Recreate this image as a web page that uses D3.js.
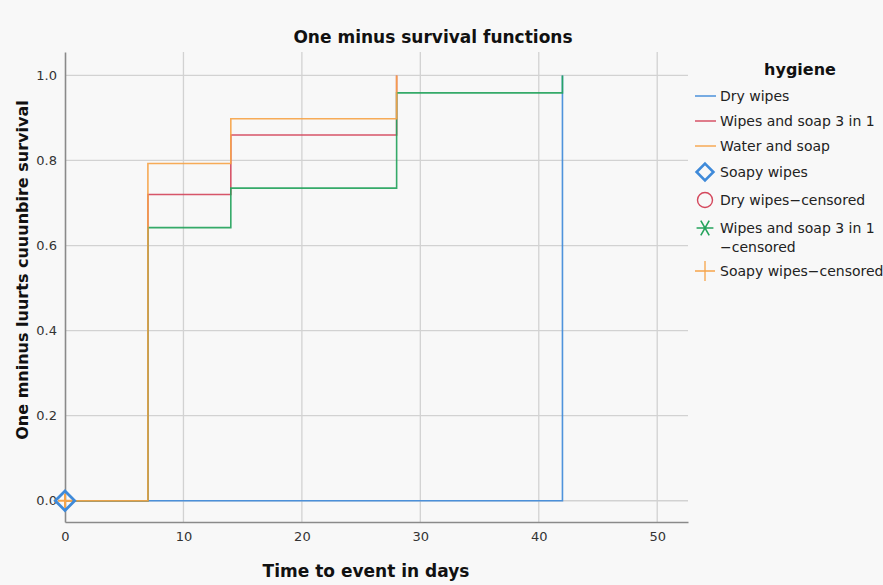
<!DOCTYPE html>
<html><head><meta charset="utf-8">
<script src="https://cdn.jsdelivr.net/npm/d3@7"></script>
<style>
html,body{margin:0;padding:0;background:#f8f8f8;}
svg{display:block;}
text{font-family:"DejaVu Sans",sans-serif;}
</style></head>
<body>
<script>
// ---- data ----
const xTicks = [0, 10, 20, 30, 40, 50];
const yTicks = [0.0, 0.2, 0.4, 0.6, 0.8, 1.0];
const seriesNames = ["Dry wipes", "Wipes and soap 3 in 1", "Water and soap", "Soapy wipes"];
const dryTimes = [0, 42];
const dryValues = [0, 1.0];
const wipesSoapTimes = [0, 7, 14, 28];
const wipesSoapValues = [0, 0.72, 0.86, 1.0];
const waterSoapTimes = [0, 7, 14, 28];
const waterSoapValues = [0, 0.793, 0.898, 1.0];
const soapyTimes = [0, 7, 14, 28, 42];
const soapyValues = [0, 0.642, 0.735, 0.959, 1.0];
const censorTimes = [0];
const censorValues = [0];
const legendLabels = ["Dry wipes", "Wipes and soap 3 in 1", "Water and soap", "Soapy wipes",
  "Dry wipes\u2212censored", ["Wipes and soap 3 in 1", "\u2212censored"], "Soapy wipes\u2212censored"];

const W = 883, H = 585;
const colors = {blue:"#3f8ad9", red:"#d4475c", orange:"#f6a449", green:"#24a35c"};

const svg = d3.select("body").append("svg").attr("width", W).attr("height", H);
svg.append("rect").attr("width", W).attr("height", H).attr("fill", "#f8f8f8");

const x = d3.scaleLinear().domain([0, 52.6]).range([65, 688]);
const y = d3.scaleLinear().domain([-0.05, 1.055]).range([522, 52]);

// gridlines
const grid = svg.append("g").attr("stroke", "#d2d2d2").attr("stroke-width", 1.3);
grid.selectAll("line.h").data(yTicks).join("line").attr("class","h")
  .attr("x1", x.range()[0]).attr("x2", x.range()[1])
  .attr("y1", d => y(d)).attr("y2", d => y(d));
grid.selectAll("line.v").data(xTicks.filter(d => d > 0)).join("line").attr("class","v")
  .attr("x1", d => x(d)).attr("x2", d => x(d))
  .attr("y1", y.range()[1]).attr("y2", y.range()[0]);

// axes
const xAxis = svg.append("g").attr("transform", `translate(0,${y.range()[0]})`)
  .call(d3.axisBottom(x).tickValues(xTicks).tickSize(0).tickPadding(10).tickFormat(d3.format("d")));
const yAxis = svg.append("g").attr("transform", `translate(${x.range()[0]},0)`)
  .call(d3.axisLeft(y).tickValues(yTicks).tickSize(0).tickPadding(8).tickFormat(d3.format(".1f")));
[xAxis, yAxis].forEach(a => {
  a.select(".domain").attr("stroke", "#8a8a8a").attr("stroke-width", 1.6);
  a.selectAll("text").attr("font-size", 13).attr("fill", "#333");
});

// step lines
const line = d3.line().x(d => x(d[0])).y(d => y(d[1])).curve(d3.curveStepAfter);
const zip = (t, v) => t.map((d, i) => [d, v[i]]);
const series = [
  {pts: zip(dryTimes, dryValues), c: colors.blue},
  {pts: zip(wipesSoapTimes, wipesSoapValues), c: colors.red},
  {pts: zip(soapyTimes, soapyValues), c: colors.green},
  {pts: zip(waterSoapTimes, waterSoapValues), c: colors.orange}
];
svg.append("g").selectAll("path").data(series).join("path")
  .attr("d", d => line(d.pts)).attr("fill", "none")
  .attr("stroke", d => d.c).attr("stroke-width", 1.6).attr("stroke-opacity", 0.92);

function plus(g, cx, cy, r, color, w) {
  g.append("path").attr("d", `M${cx - r},${cy}H${cx + r}M${cx},${cy - r}V${cy + r}`)
    .attr("stroke", color).attr("stroke-width", w).attr("fill", "none");
}

// censor markers at origin
const mk = svg.append("g");
censorTimes.forEach((t, i) => {
  const cx = x(t), cy = y(censorValues[i]);
  mk.append("path").attr("d", d3.symbol(d3.symbolDiamond2, 240)())
    .attr("transform", `translate(${cx},${cy})`).attr("fill", "none")
    .attr("stroke", colors.blue).attr("stroke-width", 2.8);
  plus(mk, cx, cy, 7, colors.orange, 2);
});

// titles
svg.append("text").attr("x", 433).attr("y", 43).attr("text-anchor", "middle")
  .attr("font-size", 17).attr("font-weight", "bold").attr("fill", "#111").text("One minus survival functions");
svg.append("text").attr("x", 366).attr("y", 577).attr("text-anchor", "middle")
  .attr("font-size", 17).attr("font-weight", "bold").attr("fill", "#111").text("Time to event in days");
svg.append("text").attr("transform", "translate(28,270) rotate(-90)").attr("text-anchor", "middle")
  .attr("font-size", 16).attr("font-weight", "bold").attr("fill", "#111").text("One mninus luurts cuuunbire survival");

// legend
const lg = svg.append("g");
lg.append("text").attr("x", 800).attr("y", 75).attr("text-anchor", "middle")
  .attr("font-size", 16).attr("font-weight", "bold").attr("fill", "#111").text("hygiene");
const rowsY = [96, 121, 146, 172, 200, 228, 271];
const lineColors = [colors.blue, colors.red, colors.orange];
const sx = 705;
legendLabels.forEach((lab, i) => {
  const yy = rowsY[i];
  if (i < 3) {
    lg.append("line").attr("x1", 695).attr("x2", 716).attr("y1", yy).attr("y2", yy)
      .attr("stroke", lineColors[i]).attr("stroke-width", 1.4);
  } else if (i === 3) {
    lg.append("path").attr("d", d3.symbol(d3.symbolDiamond2, 180)()).attr("transform", `translate(${sx},${yy})`)
      .attr("fill", "none").attr("stroke", colors.blue).attr("stroke-width", 2.6);
  } else if (i === 4) {
    lg.append("circle").attr("cx", sx).attr("cy", yy).attr("r", 7.5)
      .attr("fill", "none").attr("stroke", colors.red).attr("stroke-width", 1.4);
  } else if (i === 5) {
    lg.append("path").attr("d", d3.symbol(d3.symbolAsterisk, 200)()).attr("transform", `translate(${sx},${yy}) rotate(30)`)
      .attr("fill", "none").attr("stroke", colors.green).attr("stroke-width", 1.6);
  } else {
    plus(lg, sx, yy, 10, colors.orange, 1.3);
  }
  const lines = Array.isArray(lab) ? lab : [lab];
  lines.forEach((s, j) => {
    lg.append("text").attr("x", 720).attr("y", yy + 5 + j * 19).attr("font-size", 14)
      .attr("fill", "#222").text(s);
  });
});
</script>
</body></html>
